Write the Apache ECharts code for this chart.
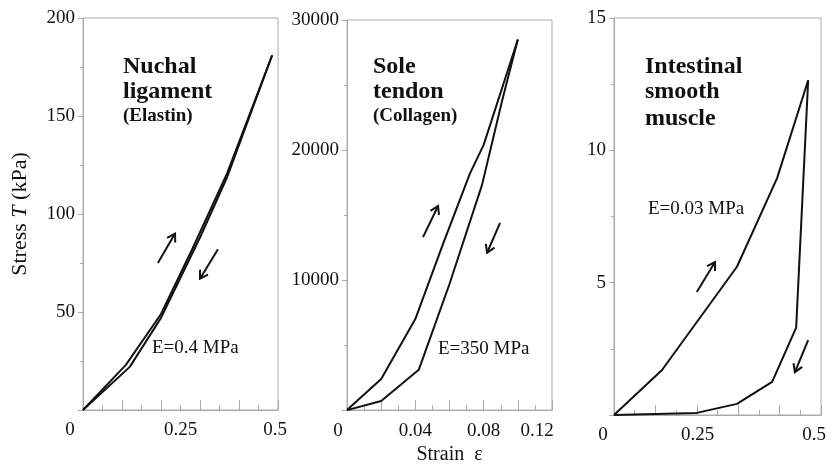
<!DOCTYPE html>
<html>
<head>
<meta charset="utf-8">
<script src="https://cdn.jsdelivr.net/npm/echarts@6/dist/echarts.min.js"></script>
<style>
  html, body { margin: 0; padding: 0; background: #fff; }
  #main { width: 834px; height: 470px; }
</style>
</head>
<body>
<div id="main"></div>
<script>
// [strain, stress] pairs
const ligamentLoad = [[0, 0], [0.11, 23], [0.2, 49], [0.28, 82], [0.37, 121], [0.485, 181]];
const ligamentUnload = [[0.485, 181], [0.37, 119], [0.3, 88], [0.2, 47], [0.12, 22], [0, 0]];
const tendonLoad = [[0, 0], [0.02, 2400], [0.04, 7000], [0.056, 12700], [0.072, 18200], [0.08, 20400], [0.1, 28500]];
const tendonUnload = [[0.1, 28500], [0.091, 23900], [0.079, 17300], [0.06, 9700], [0.042, 3100], [0.02, 700], [0, 0]];
const muscleLoad = [[0, 0], [0.116, 1.7], [0.297, 5.6], [0.394, 8.95], [0.469, 12.65]];
const muscleUnload = [[0.469, 12.65], [0.44, 3.3], [0.382, 1.25], [0.297, 0.42], [0.2, 0.08], [0, 0]];

// tick labels
const ligamentStrainLabels = [0, 0.25, 0.5];
const tendonStrainLabels = [0, 0.04, 0.08, 0.12];
const muscleStrainLabels = [0, 0.25, 0.5];

// loading / unloading arrows: [x0, y0, x1, y1] in data units
const ligamentArrows = [[0.192, 75, 0.236, 90], [0.346, 82, 0.3, 67]];
const tendonArrows = [[0.0445, 13300, 0.0533, 15700], [0.0896, 14400, 0.082, 12100]];
const muscleArrows = [[0.2, 4.65, 0.244, 5.78], [0.469, 2.83, 0.437, 1.62]];

const titles = [['Nuchal', 'ligament', '(Elastin)'], ['Sole', 'tendon', '(Collagen)'], ['Intestinal', 'smooth', 'muscle']];
const moduli = ['E=0.4 MPa', 'E=350 MPa', 'E=0.03 MPa'];

const FONT = "'Liberation Serif', 'Times New Roman', serif";
const INK = '#111';
const GRAY = '#aaa';

const chart = echarts.init(document.getElementById('main'));

// label shifts (px, negative = left) to follow where the original put them
function xAxisFor(idx, max, interval, labels, shifts, name) {
  const rich = {};
  labels.forEach((v, i) => {
    const s = shifts[i] || 0;
    rich['k' + i] = {
      fontFamily: FONT, fontSize: 19, color: INK,
      padding: s < 0 ? [0, -2 * s, 0, 0] : [0, 0, 0, 2 * s]
    };
  });
  return {
    gridIndex: idx, type: 'value', min: 0, max: max, interval: interval,
    name: name || '', nameLocation: 'middle', nameGap: 31,
    nameTextStyle: { fontFamily: FONT, fontSize: 20, color: INK },
    axisLine: { lineStyle: { color: GRAY } },
    axisTick: { inside: true, length: 10, lineStyle: { color: GRAY } },
    minorTick: { show: true, splitNumber: 2, length: 5, lineStyle: { color: GRAY } },
    splitLine: { show: false },
    axisLabel: {
      customValues: labels, margin: 11,
      formatter: function (v) {
        const i = labels.findIndex(l => Math.abs(l - v) < 1e-9);
        return i < 0 ? '' : '{k' + i + '|' + v + '}';
      },
      rich: rich
    }
  };
}

function yAxisFor(idx, max, interval, name) {
  return {
    gridIndex: idx, type: 'value', min: 0, max: max, interval: interval,
    name: name || '', nameLocation: 'middle', nameGap: 52,
    nameTextStyle: {
      fontFamily: FONT, fontSize: 22, color: INK,
      rich: { i: { fontFamily: FONT, fontSize: 22, fontStyle: 'italic', color: INK } }
    },
    axisLine: { lineStyle: { color: GRAY } },
    axisTick: { length: 5, lineStyle: { color: GRAY } },
    minorTick: { show: true, splitNumber: 2, length: 3, lineStyle: { color: GRAY } },
    splitLine: { show: false },
    axisLabel: {
      showMinLabel: false, margin: 8, fontFamily: FONT, fontSize: 19, color: INK,
      formatter: v => String(v)
    }
  };
}

function curve(idx, data) {
  return {
    type: 'line', xAxisIndex: idx, yAxisIndex: idx, data: data,
    showSymbol: false, symbol: 'none', silent: true,
    lineStyle: { color: INK, width: 2 }
  };
}

const titleX = [123, 373, 645];
const modulusPos = [[152, 348], [438, 349], [648, 209]];

const graphics = [];
titles.forEach((t, i) => {
  const sub = i < 2;
  graphics.push({ type: 'text', x: titleX[i], y: 67, style: { text: t[0], fontFamily: FONT, fontSize: 24, fontWeight: 'bold', fill: INK, verticalAlign: 'middle' } });
  graphics.push({ type: 'text', x: titleX[i], y: 92, style: { text: t[1], fontFamily: FONT, fontSize: 24, fontWeight: 'bold', fill: INK, verticalAlign: 'middle' } });
  graphics.push({ type: 'text', x: titleX[i], y: sub ? 116 : 119, style: { text: t[2], fontFamily: FONT, fontSize: sub ? 19 : 24, fontWeight: 'bold', fill: INK, verticalAlign: 'middle' } });
  graphics.push({ type: 'text', x: modulusPos[i][0], y: modulusPos[i][1], style: { text: moduli[i], fontFamily: FONT, fontSize: 19, fill: INK, verticalAlign: 'middle' } });
});

const option = {
  animation: false,
  backgroundColor: '#fff',
  grid: [
    { left: 83, top: 18, width: 195, height: 392, show: true, borderColor: GRAY, borderWidth: 1 },
    { left: 347, top: 20, width: 205, height: 394, show: true, borderColor: GRAY, borderWidth: 1 },
    { left: 614, top: 18, width: 207, height: 397, show: true, borderColor: GRAY, borderWidth: 1 }
  ],
  xAxis: [
    xAxisFor(0, 0.5, 0.1, ligamentStrainLabels, [-13, 0, -3]),
    xAxisFor(1, 0.12, 0.02, tendonStrainLabels, [-9, 0, 0, -15], 'Strain  ε'),
    xAxisFor(2, 0.5, 0.1, muscleStrainLabels, [-11, -20, -7])
  ],
  yAxis: [
    yAxisFor(0, 200, 50, 'Stress {i|T} (kPa)'),
    yAxisFor(1, 30000, 10000),
    yAxisFor(2, 15, 5)
  ],
  series: [
    curve(0, ligamentLoad), curve(0, ligamentUnload),
    curve(1, tendonLoad), curve(1, tendonUnload),
    curve(2, muscleLoad), curve(2, muscleUnload)
  ],
  graphic: graphics
};

chart.setOption(option);

// arrows drawn after layout so they follow the axes
function arrow(idx, a) {
  const p0 = chart.convertToPixel({ gridIndex: idx }, [a[0], a[1]]);
  const p1 = chart.convertToPixel({ gridIndex: idx }, [a[2], a[3]]);
  const ang = Math.atan2(p1[1] - p0[1], p1[0] - p0[0]);
  const L = 9, w = 0.55;
  const h1 = [p1[0] - L * Math.cos(ang - w), p1[1] - L * Math.sin(ang - w)];
  const h2 = [p1[0] - L * Math.cos(ang + w), p1[1] - L * Math.sin(ang + w)];
  const st = { stroke: INK, lineWidth: 2, fill: null };
  return [
    { type: 'polyline', shape: { points: [p0, p1] }, style: st },
    { type: 'polyline', shape: { points: [h1, p1, h2] }, style: st }
  ];
}

let arrowGraphics = [];
ligamentArrows.forEach(a => { arrowGraphics = arrowGraphics.concat(arrow(0, a)); });
tendonArrows.forEach(a => { arrowGraphics = arrowGraphics.concat(arrow(1, a)); });
muscleArrows.forEach(a => { arrowGraphics = arrowGraphics.concat(arrow(2, a)); });

chart.setOption({ graphic: graphics.concat(arrowGraphics) });
</script>
</body>
</html>
